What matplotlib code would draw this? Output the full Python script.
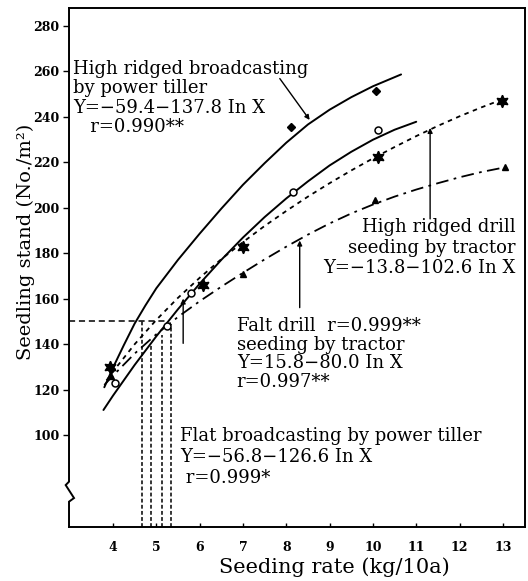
import matplotlib
matplotlib.use("Agg")
import matplotlib.pyplot as plt

plt.rcParams["font.family"] = ["DejaVu Serif"]

# --- Seedling stand curves (No./m^2) vs seeding rate (kg/10a) ---
# high ridged broadcasting by power tiller
hrb_x = [3.8, 4.0, 4.25, 4.5, 4.75, 5.0, 5.5, 6.0, 6.5, 7.0, 7.5, 8.0, 8.5,
         9.0, 9.5, 10.0, 10.65]
hrb_y = [121, 129.6, 139.5, 149, 157, 164.5, 177, 188.5, 199.5, 210, 219.5,
         228.5, 236.5, 243, 248.5, 253.3, 258.5]

# flat broadcasting by power tiller
fb_x = [3.78, 4.0, 4.5, 5.0, 5.5, 6.0, 6.5, 7.0, 7.5, 8.0, 8.5, 9.0, 9.5,
        10.0, 10.5, 11.0]
fb_y = [111, 117.3, 130.8, 143.4, 155.3, 166.5, 177, 186.8, 195.8, 204,
        211.5, 218.5, 224.5, 229.8, 234.2, 237.7]

# high ridged drill seeding by tractor
hrd_x = [3.85, 4.0, 4.5, 5.0, 5.5, 6.0, 6.5, 7.0, 7.5, 8.0, 8.5, 9.0, 9.5,
         10.0, 10.5, 11.0, 11.5, 12.0, 12.5, 13.0]
hrd_y = [124, 127.9, 139.9, 150.6, 160.3, 169.1, 177.3, 184.8, 191.9, 198.5,
         204.8, 210.7, 216.3, 221.6, 226.6, 231.4, 235.9, 240.1, 244, 247.6]

# flat drill seeding by tractor
fd_x = [3.8, 4.0, 4.5, 5.0, 5.5, 6.0, 6.5, 7.0, 7.5, 8.0, 8.5, 9.0, 9.5,
        10.0, 10.5, 11.0, 11.5, 12.0, 12.5, 13.0]
fd_y = [122, 126.1, 135.8, 144.3, 151.9, 158.8, 165.2, 171.3, 177.2, 182.8,
        188.1, 193, 197.4, 201.3, 204.8, 207.9, 210.7, 213.3, 215.6, 217.5]

# observed points
hrb_obs_x = [3.95, 8.12, 10.06]
hrb_obs_y = [129, 235.5, 251.3]
fb_obs_x = [4.05, 5.24, 5.81, 8.15, 10.11]
fb_obs_y = [123, 148, 162.3, 207, 234]
hrd_obs_x = [3.93, 6.08, 6.99, 10.11, 12.99]
hrd_obs_y = [130, 166, 182.8, 222.3, 247]
fd_obs_x = [3.95, 7.0, 10.04, 13.06]
fd_obs_y = [126, 171, 203.3, 217.6]

# reading of seeding rate at 150 plants/m^2
target_stand = 150
target_rates = [4.66, 4.87, 5.12, 5.34]
target_tops = [150, 140, 144, 149]
target_hline_end = 5.27

x_ticks = [4, 5, 6, 7, 8, 9, 10, 11, 12, 13]
y_ticks = [100, 120, 140, 160, 180, 200, 220, 240, 260, 280]

hrb_label = "High ridged broadcasting\nby power tiller\nY=−59.4−137.8 In X\n   r=0.990**"
hrd_label = "High ridged drill\nseeding by tractor\nY=−13.8−102.6 In X"
fd_label = "Falt drill  r=0.999**\nseeding by tractor\nY=15.8−80.0 In X\nr=0.997**"
fb_label = "Flat broadcasting by power tiller\nY=−56.8−126.6 In X\n r=0.999*"

fig = plt.figure(figsize=(5.28, 5.81), dpi=100)
ax = fig.add_axes([0.1307, 0.0929, 0.8636, 0.8933])
ax.set_xlim(2.985, 13.51)
ax.set_ylim(59.56, 287.7)

k = "black"
ax.plot(hrb_x, hrb_y, color=k, lw=1.4, solid_capstyle="round",
        solid_joinstyle="round")
ax.plot(fb_x, fb_y, color=k, lw=1.4, solid_capstyle="round",
        solid_joinstyle="round")
ax.plot(hrd_x, hrd_y, color=k, lw=1.3, linestyle=(0, (2.5, 2.5)))
ax.plot(fd_x, fd_y, color=k, lw=1.3, linestyle=(0, (7, 3, 1.5, 3)))

ax.plot(hrb_obs_x, hrb_obs_y, linestyle="none", marker="D", ms=4.5, color=k)
ax.plot(fb_obs_x, fb_obs_y, linestyle="none", marker="o", ms=5, mfc="white",
        mec=k, mew=1.1)
ax.plot(hrd_obs_x, hrd_obs_y, linestyle="none", marker=(6, 1, 0), ms=9, color=k)
ax.plot(fd_obs_x, fd_obs_y, linestyle="none", marker="^", ms=5, color=k)

# reference lines
ax.plot([ax.get_xlim()[0], target_hline_end], [target_stand, target_stand],
        color=k, lw=1.1, linestyle=(0, (4, 2.5)))
for xr, yt in zip(target_rates, target_tops):
    ax.plot([xr, xr], [ax.get_ylim()[0], yt], color=k, lw=1.1,
            linestyle=(0, (2.5, 1.5)))

# pointers to curves
arrow = dict(arrowstyle="-|>", color=k, lw=1.0, mutation_scale=7,
             shrinkA=0, shrinkB=0)
ax.annotate("", xy=(8.54, 238.5), xytext=(7.85, 256.7), arrowprops=arrow)
ax.annotate("", xy=(11.32, 235), xytext=(11.32, 195), arrowprops=arrow)
ax.annotate("", xy=(8.31, 185.5), xytext=(8.31, 156), arrowprops=arrow)
ax.annotate("", xy=(5.62, 160), xytext=(5.62, 140.3), arrowprops=arrow)

# curve labels (anchored at the baseline of their last line)
fs = 13
ax.text(3.077, 233.3, hrb_label, ha="left", va="baseline", fontsize=fs,
        linespacing=1.09, color=k)
ax.text(13.30, 171.2, hrd_label, ha="right", va="baseline", fontsize=fs,
        multialignment="right", linespacing=1.17, color=k)
ax.text(6.855, 121.2, fd_label, ha="left", va="baseline", fontsize=fs,
        linespacing=1.04, color=k)
ax.text(5.546, 79.0, fb_label, ha="left", va="baseline", fontsize=fs,
        linespacing=1.22, color=k)

# axes frame with a break mark on the y axis
for s in ("top", "right", "bottom"):
    ax.spines[s].set_linewidth(1.4)
ax.spines["left"].set_visible(False)
yt = ax.get_yaxis_transform()
ax.plot([0, 0, 0.011, -0.0073, 0, 0],
        [ax.get_ylim()[0], 70.7, 72.3, 78.0, 79.5, ax.get_ylim()[1]],
        color=k, lw=1.4, transform=yt, clip_on=False, solid_joinstyle="miter")

ax.set_xticks(x_ticks)
ax.set_yticks(y_ticks)
ax.tick_params(axis="x", direction="in", length=3, width=1, pad=10,
               labelsize=9)
ax.tick_params(axis="y", direction="out", length=4, width=1, pad=3,
               labelsize=9)
for lab in ax.get_xticklabels() + ax.get_yticklabels():
    lab.set_fontweight("bold")

ax.set_xlabel("Seeding rate (kg/10a)", fontsize=15)
ax.xaxis.set_label_coords(0.582, -0.058)
ax.set_ylabel("Seedling stand (No./m²)", fontsize=14)
ax.yaxis.set_label_coords(-0.0745, 0.549)

fig.savefig("out.png", dpi=100)
